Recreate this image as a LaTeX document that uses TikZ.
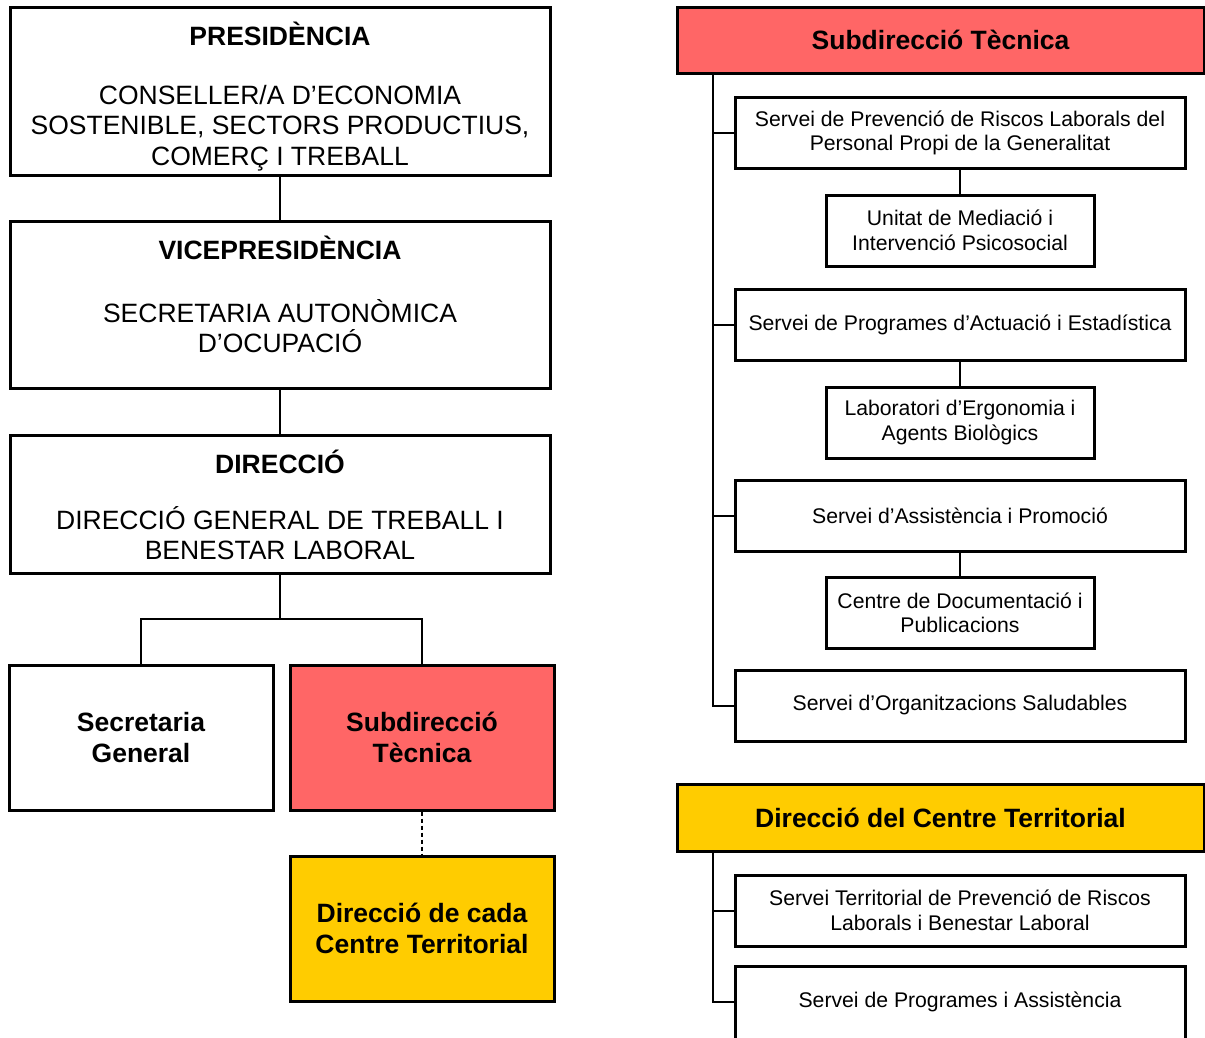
\documentclass[tikz,border=0pt]{standalone}
\usepackage{fontspec}
\setmainfont{Liberation Sans}
\definecolor{redbox}{HTML}{FF6666}
\definecolor{yelbox}{HTML}{FFCC00}
\begin{document}
\begin{tikzpicture}[x=1pt,y=-1pt,
  box/.style={draw, line width=3pt, inner sep=0pt, align=center},
  conn/.style={line width=1.5pt},
  spine/.style={line width=2pt},
  ltitle/.style={font=\fontsize{26.5}{30}\selectfont\bfseries},
  lbody/.style={font=\fontsize{26.5}{30.5}\selectfont, align=center},
  lbig/.style={font=\fontsize{26.5}{31}\selectfont\bfseries},
  rhead/.style={font=\fontsize{26.5}{30}\selectfont\bfseries},
  rbody/.style={font=\fontsize{21.2}{24.5}\selectfont},
  svc/.style={box, minimum width=450pt, minimum height=71pt, rbody},
  sub/.style={box, minimum width=268pt, minimum height=71pt, rbody}
]
\useasboundingbox (0,0) rectangle (1205,1037);

% ---------- left column ----------
\node[box, minimum width=540pt, minimum height=168pt] (pres) at (280,91) {};
\node[ltitle] (presT) at (280,34) {PRESIDÈNCIA};
\node[lbody] (presB) at (280,128) {CONSELLER/A D’ECONOMIA\\SOSTENIBLE, SECTORS PRODUCTIUS,\\COMERÇ I TREBALL};

\node[box, minimum width=540pt, minimum height=167pt] (vice) at (280,304.5) {};
\node[ltitle] (viceT) at (280,248) {VICEPRESIDÈNCIA};
\node[lbody] (viceB) at (280,326) {SECRETARIA AUTONÒMICA\\D’OCUPACIÓ};

\node[box, minimum width=540pt, minimum height=138pt] (dir) at (280,504) {};
\node[ltitle] (dirT) at (280,462) {DIRECCIÓ};
\node[lbody] (dirB) at (280,533) {DIRECCIÓ GENERAL DE TREBALL I\\BENESTAR LABORAL};

\node[box, minimum width=264pt, minimum height=145pt, lbig] (sg) at (141,737.5) {Secretaria\\General};
\node[box, fill=redbox, minimum width=264pt, minimum height=145pt, lbig] (st) at (422,737.5) {Subdirecció\\Tècnica};
\node[box, fill=yelbox, minimum width=264pt, minimum height=145pt, lbig] (dc) at (422,928.5) {Direcció de cada\\Centre Territorial};

\draw[conn] (pres.south) -- (vice.north);
\draw[conn] (vice.south) -- (dir.north);
\coordinate (fork) at (280,619);
\draw[conn] (dir.south) -- (fork);
\draw[conn] (fork) -| (sg.north);
\draw[conn] (fork) -| (st.north);
\draw[conn, dashed, dash pattern=on 4pt off 3pt] (st.south) -- (dc.north);

% ---------- right column: Subdireccio Tecnica ----------
\node[box, fill=redbox, minimum width=527pt, minimum height=66pt, rhead] (sth) at (940.5,40) {Subdirecció Tècnica};
\node[svc] (s1) at (960,133) {Servei de Prevenció de Riscos Laborals del\\Personal Propi de la Generalitat};
\node[sub] (u1) at (960,230.5) {Unitat de Mediació i\\Intervenció Psicosocial};
\node[svc] (s2) at (960,325) {Servei de Programes d’Actuació i Estadística};
\node[sub] (u2) at (960,422.5) {Laboratori d’Ergonomia i\\Agents Biològics};
\node[svc] (s3) at (960,515.5) {Servei d’Assistència i Promoció};
\node[sub] (u3) at (960,613) {Centre de Documentació i\\Publicacions};
\node[svc] (s4) at (960,705.5) {Servei d’Organitzacions Saludables};

\coordinate (sp1) at (713,73);
\draw[spine] (sp1) |- (s4.west);
\draw[spine] (sp1 |- s1.west) -- (s1.west);
\draw[spine] (sp1 |- s2.west) -- (s2.west);
\draw[spine] (sp1 |- s3.west) -- (s3.west);
\draw[conn] (s1.south) -- (u1.north);
\draw[conn] (s2.south) -- (u2.north);
\draw[conn] (s3.south) -- (u3.north);

% ---------- right column: Direccio del Centre Territorial ----------
\node[box, fill=yelbox, minimum width=527pt, minimum height=67pt, rhead] (dct) at (940.5,817.5) {Direcció del Centre Territorial};
\node[svc] (t1) at (960,910.5) {Servei Territorial de Prevenció de Riscos\\Laborals i Benestar Laboral};
\node[box, minimum width=450pt, minimum height=80pt, rbody] (t2) at (960,1006) {};
\node[rbody] (t2T) at (960,1002) {Servei de Programes i Assistència};

\coordinate (sp2) at (713,851);
\draw[spine] (sp2) |- (t2T.west -| t2.west);
\draw[spine] (sp2 |- t1.west) -- (t1.west);
\end{tikzpicture}
\end{document}
